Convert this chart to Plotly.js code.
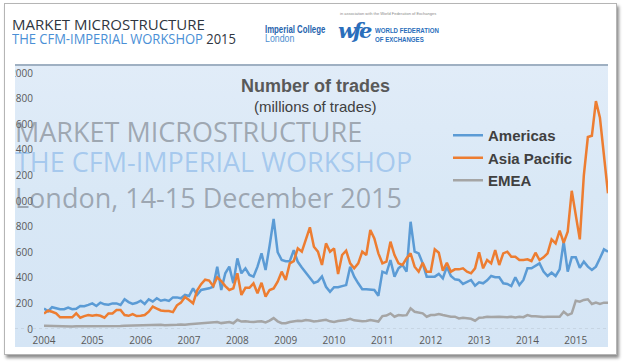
<!DOCTYPE html>
<html><head><meta charset="utf-8">
<script src="https://cdn.plot.ly/plotly-3.0.1.min.js"></script>
<style>
html,body{margin:0;padding:0;background:#fff;width:623px;height:364px;overflow:hidden;font-family:"Open Sans",sans-serif}
.abs{position:absolute;white-space:nowrap;line-height:1}
#frame{position:absolute;left:4px;top:3px;width:611px;height:350px;border:1px solid #b5b5b5;box-shadow:2px 3px 3px rgba(0,0,0,0.45);background:#fff}
#chartbox{position:absolute;left:15px;top:64px;width:593px;height:283px;overflow:hidden;background:linear-gradient(180deg,#e1ecf8 0%,#d9e8f6 45%,#d5e5f5 100%)}
#topline{position:absolute;left:15px;top:64px;width:593px;height:2px;background:#9fb0c2}
#plot{position:absolute;left:-15px;top:-64px;width:623px;height:364px}
.wm{font-family:"Open Sans",sans-serif;font-size:27px}
.ar{font-family:'Liberation Sans',Arial,sans-serif;transform-origin:left}
</style></head><body>
<div id="frame"></div>
<div class="abs" style="left:12px;top:17px;font-size:15px;color:#2f3640">MARKET MICROSTRUCTURE</div>
<div class="abs" style="left:12px;top:31px;font-size:15px;color:#4a8fd6;transform:scaleX(0.865);transform-origin:left">THE CFM-IMPERIAL WORKSHOP <span style="color:#2f3640">2015</span></div>
<div class="abs ar" style="left:265px;top:24.5px;font-weight:bold;font-size:10px;color:#2563ad;transform:scaleX(0.78)">Imperial College</div>
<div class="abs ar" style="left:265px;top:33.5px;font-size:10px;color:#4f8fd0;transform:scaleX(0.88)">London</div>
<div class="abs ar" style="left:340px;top:12px;font-size:4px;color:#888">in association with the World Federation of Exchanges</div>
<div class="abs" style="left:338px;top:20px;font-family:'DejaVu Serif',serif;font-weight:bold;font-style:italic;font-size:21px;color:#2a6ebb;letter-spacing:-3px">wfe</div>
<div class="abs ar" style="left:375px;top:26.6px;font-weight:bold;font-size:7px;color:#2a6ebb;transform:scaleX(0.87)">WORLD FEDERATION</div>
<div class="abs ar" style="left:375px;top:35.6px;font-weight:bold;font-size:7px;color:#2a6ebb;transform:scaleX(0.87)">OF EXCHANGES</div>
<div id="chartbox"><div id="plot"></div></div>
<div id="topline"></div>
<div class="abs wm" style="left:15px;top:118px;color:rgba(105,110,118,0.55)">MARKET MICROSTRUCTURE</div>
<div class="abs wm" style="left:15px;top:148px;color:rgba(90,155,225,0.42)">THE CFM-IMPERIAL WORKSHOP</div>
<div class="abs wm" style="left:15px;top:184px;color:rgba(105,110,118,0.55)">London, 14-15 December 2015</div>
<script>
// monthly data, Jan 2004 .. Sep 2015 (millions of trades)
const seriesNames = ['Americas', 'Asia Pacific', 'EMEA'];
const yearLabels = ['2004','2005','2006','2007','2008','2009','2010','2011','2012','2013','2014','2015'];
const americas = [
 160,138,170,162,155,155,168,155,158,180,178,188,
 200,180,206,193,190,200,200,188,232,210,196,205,
 221,196,232,214,240,221,228,220,247,247,240,266,
 258,318,266,305,310,318,330,487,305,435,487,357,
 552,435,474,422,409,487,591,461,650,860,600,539,
 530,530,615,525,480,440,400,360,372,410,330,291,
 326,326,335,343,487,409,357,310,310,310,305,260,
 448,435,539,409,474,500,448,838,604,591,513,409,
 409,409,430,396,487,414,388,383,352,370,383,339,
 365,357,380,414,404,404,357,352,335,404,344,383,
 474,474,492,513,448,414,440,414,466,682,448,560,
 560,479,526,487,461,487,552,622,604
];
const asiaPacific = [
 122,143,135,122,91,91,96,91,122,88,101,109,
 103,109,103,88,122,122,148,148,109,103,117,101,
 103,109,135,175,160,145,140,140,132,185,206,250,
 227,201,300,350,385,378,335,404,375,335,305,318,
 435,266,322,322,357,279,361,253,305,317,370,448,
 383,513,530,630,604,700,794,643,604,500,669,604,
 630,430,578,612,513,474,513,604,578,773,708,591,
 513,526,682,578,513,500,552,591,487,448,518,448,
 448,622,596,456,518,448,466,466,474,448,435,474,
 600,474,539,513,617,500,591,604,565,565,539,539,
 544,531,596,539,560,591,700,669,768,674,760,1080,
 900,700,1200,1500,1510,1780,1650,1350,1060
];
const emea = [
 25,24,22,23,21,20,21,20,22,22,21,20,
 22,23,24,23,25,24,23,24,26,27,26,25,
 28,30,32,31,35,33,30,30,32,34,36,34,
 38,40,44,42,46,46,50,55,46,48,55,45,
 72,58,60,56,54,58,60,52,65,85,60,45,
 45,55,62,64,62,70,66,58,62,70,72,60,
 55,62,66,70,80,68,64,60,62,70,64,58,
 101,105,122,96,109,105,108,161,135,127,122,96,
 109,109,117,109,101,96,96,83,88,83,80,65,
 88,90,96,94,96,96,94,92,96,90,95,92,
 109,100,100,96,94,96,96,98,96,135,109,122,
 221,214,227,232,195,206,195,206,206
];
const colors = ['#5B9BD5', '#ED7D31', '#A5A5A5'];
const allSeries = [americas, asiaPacific, emea];
const monthIndex = americas.map((_, i) => i);

const traces = allSeries.map((vals, k) => ({
  type: 'scatter', mode: 'lines', name: seriesNames[k],
  x: monthIndex, y: vals, legendgroup: 'g' + k,
  line: {color: colors[k], width: 2.5, shape: 'linear'},
  hoverinfo: 'skip'
}));

const W = 623, H = 364, L = 44, R = 15, T = 73, B = 35;
const pw = W - L - R, ph = H - T - B;
const px = x => (x - L) / pw;
const py = y => (H - B - y) / ph;

const layout = {
  width: W, height: H,
  margin: {l: L, r: R, t: T, b: B, pad: 0},
  paper_bgcolor: 'rgba(0,0,0,0)', plot_bgcolor: 'rgba(0,0,0,0)',
  showlegend: true,
  font: {family: '"Open Sans", sans-serif', color: '#595959', size: 10},
  xaxis: {
    range: [0, americas.length - 1], showgrid: false, zeroline: false, showline: false,
    tickmode: 'array', tickvals: yearLabels.map((_, i) => i * 12), ticktext: yearLabels,
    ticks: '', tickfont: {size: 10, color: '#595959', family: '"Open Sans", sans-serif'},
    ticklabelstandoff: 4, fixedrange: true
  },
  yaxis: {
    range: [0, 2000], tick0: 0, dtick: 200, showgrid: false, zeroline: false, showline: false,
    ticks: '', tickfont: {size: 10, color: '#595959', family: '"Open Sans", sans-serif'},
    ticklabelstandoff: 10, fixedrange: true
  },
  shapes: [{
    type: 'line', xref: 'paper', yref: 'y', x0: px(15), x1: 1, y0: 0, y1: 0,
    line: {color: '#b8c4d0', width: 1, dash: 'dot'}
  }],
  legend: {
    x: px(448), y: py(119), xanchor: 'left', yanchor: 'top',
    bgcolor: 'rgba(0,0,0,0)', borderwidth: 0,
    traceorder: 'grouped', tracegroupgap: 0,
    font: {family: '"Liberation Sans", Arial, sans-serif', size: 15, color: '#404040', weight: 'bold'}
  },
  annotations: [
    {text: 'Number of trades', xref: 'paper', yref: 'paper', x: px(315), y: py(86),
     xanchor: 'center', yanchor: 'middle', showarrow: false,
     font: {family: '"Liberation Sans", Arial, sans-serif', size: 18, color: '#595959', weight: 'bold'}},
    {text: '(millions of trades)', xref: 'paper', yref: 'paper', x: px(315), y: py(106),
     xanchor: 'center', yanchor: 'middle', showarrow: false,
     font: {family: '"Liberation Sans", Arial, sans-serif', size: 15, color: '#404040'}}
  ]
};

Plotly.newPlot('plot', traces, layout, {staticPlot: true, displayModeBar: false});
</script>
</body></html>
